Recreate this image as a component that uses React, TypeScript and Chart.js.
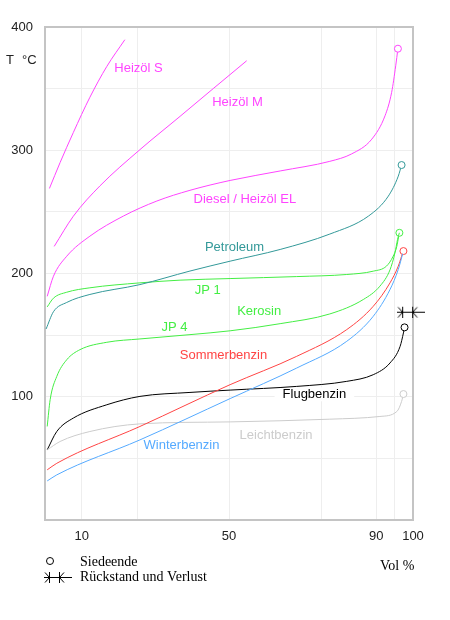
import { useEffect, useRef } from 'react';
import { Chart, registerables } from 'chart.js';

Chart.register(...registerables);

// Siedekurven: destilliertes Volumen (Vol %) gegen Temperatur (°C)
const heizoelSX = [1.2, 4.1, 7.7, 12.2, 16.8, 21.7];
const heizoelSY = [269, 290, 314.4, 343, 368, 389.7];

const heizoelMX = [2.5, 7.7, 14.9, 25.8, 36.7, 45.7, 54.8];
const heizoelMY = [222, 246.5, 271, 300.5, 327.5, 350, 372.6];

const dieselX = [0.6, 2.3, 5.9, 12.2, 21.3, 30.4, 39.4, 50.3, 63.9, 77.4, 83.3, 88.8, 92.4, 94.2, 95.3, 95.9];
const dieselY = [181.5, 197.8, 214, 230.3, 246.6, 258.8, 267.5, 275.5, 283.2, 291, 297, 309, 328, 347, 368.5, 382.4];

const petroleumX = [0.3, 2.3, 5.9, 12.2, 25.8, 39.4, 50.3, 63.9, 77.4, 87.9, 93.3, 96, 96.9];
const petroleumY = [155, 169, 176.5, 183, 191, 202, 210, 219.5, 232, 246.6, 262.8, 279, 288];

const jp1X = [0.6, 2.3, 5.9, 12.2, 25.8, 36.7, 50.3, 68.4, 82, 89.2, 92.8, 94.6, 95.6, 96.1, 96.3];
const jp1Y = [172.9, 180, 184.8, 188.4, 192.4, 194.6, 195.9, 197.5, 199.2, 201.9, 206, 214, 222, 230, 233];

const jp4X = [0.6, 1.4, 3.2, 5.9, 9.5, 16.8, 25.8, 39.4, 50.3, 63.9, 77.4, 86.5, 91, 93.75, 95.1, 95.8, 96.3];
const jp4Y = [75.9, 97.6, 116.5, 130, 138.2, 144.2, 146.9, 150.4, 153.5, 159.3, 167.2, 178.9, 189.7, 203, 216.8, 227.6, 233];

const sommerX = [0.6, 3.2, 25.8, 50.3, 68.4, 82, 89.2, 93.75, 96, 96.9, 97.4];
const sommerY = [40.7, 46, 75.9, 109.8, 132.8, 154.5, 173.4, 192.4, 206, 214, 218.2];

const winterX = [0.6, 3.2, 25.8, 50.3, 68.4, 82, 89.2, 93.75, 96, 97.2];
const winterY = [31.7, 36.6, 65, 98.5, 123.3, 145, 165.3, 187, 203.3, 216];

const flugX = [0.6, 3.2, 7.7, 16.8, 25.8, 39.4, 50.3, 68.4, 82, 89.2, 93.75, 96.5, 97.4, 97.7];
const flugY = [56.9, 71.8, 82.7, 93.5, 100.3, 103.5, 105.4, 108.4, 112.5, 117.9, 127.4, 140.9, 151.8, 156.3];

const leichtX = [0.6, 4.1, 12.2, 25.8, 50.3, 77.4, 91, 95.6, 96.9, 97.4];
const leichtY = [56.9, 63.7, 71.8, 78, 79.6, 81.8, 84, 88, 96.2, 102.2];

const rueckstandX = [99.5];
const rueckstandY = [169];

const xGridTicks = [10, 25, 50, 75, 90, 95, 100];
const xTickLabels = [10, 50, 90, 100];
const yGridTicks = [0, 50, 100, 150, 200, 250, 300, 350, 400];
const yTickLabels = [100, 200, 300, 400];

const curveLabels = ['Heizöl S', 'Heizöl M', 'Diesel / Heizöl EL', 'Petroleum', 'JP 1', 'Kerosin', 'JP 4', 'Sommerbenzin', 'Flugbenzin', 'Winterbenzin', 'Leichtbenzin'];
const curveLabelX = [25.4, 52.3, 54.3, 51.5, 44.2, 58.2, 35.2, 48.5, 73.2, 37.1, 62.8];
const curveLabelY = [366, 338.5, 260.5, 221.5, 186.5, 169.5, 156, 133.5, 102, 60.5, 68.7];

const MAGENTA = '#ff44ff';
const TEAL = '#339999';
const GREEN = '#44ee44';
const RED = '#ff4444';
const BLUE = '#55aaff';
const GRAY = '#cccccc';
const BLACK = '#000000';

const labelColors = [MAGENTA, MAGENTA, MAGENTA, TEAL, GREEN, GREEN, GREEN, RED, BLACK, BLUE, GRAY];
const boxedLabels = new Set(['Flugbenzin']);

const SANS = '"Liberation Sans", Arial, sans-serif';
const SERIF = '"Liberation Serif", "DejaVu Serif", serif';

// Symbol für "Rückstand und Verlust": Linie mit >| |<
function makeRueckstandSymbol() {
    const c = document.createElement('canvas');
    c.width = 28;
    c.height = 12;
    const g = c.getContext('2d');
    if (g) {
        g.strokeStyle = '#000';
        g.lineWidth = 1;
        g.beginPath();
        g.moveTo(0, 6.5); g.lineTo(28, 6.5);
        g.moveTo(5.5, 1); g.lineTo(5.5, 12);
        g.moveTo(1, 1.5); g.lineTo(5.5, 6.5); g.lineTo(1, 11.5);
        g.moveTo(15.5, 1); g.lineTo(15.5, 12);
        g.moveTo(20, 1.5); g.lineTo(15.5, 6.5); g.lineTo(20, 11.5);
        g.stroke();
    }
    return c;
}

const toPoints = (xs: number[], ys: number[]) => xs.map((x, i) => ({ x, y: ys[i] }));

function curve(label: string, xs: number[], ys: number[], color: string, endCircle: boolean) {
    const n = xs.length;
    return {
        label,
        data: toPoints(xs, ys),
        borderColor: color,
        borderWidth: 1,
        cubicInterpolationMode: 'monotone' as const,
        fill: false,
        pointRadius: xs.map((_, i) => (endCircle && i === n - 1 ? 3.5 : 0)),
        pointBackgroundColor: '#ffffff',
        pointBorderColor: color,
        pointBorderWidth: 1,
    };
}

export default function App() {
    const canvasRef = useRef<HTMLCanvasElement>(null);

    useEffect(() => {
        if (!canvasRef.current) return;
        const symbol = makeRueckstandSymbol();

        const decorations = {
            id: 'siedeDecorations',
            beforeDatasetsDraw(chart: any) {
                const { ctx, chartArea, scales } = chart;
                ctx.save();
                ctx.strokeStyle = '#c4c4c4';
                ctx.lineWidth = 2;
                ctx.strokeRect(chartArea.left, chartArea.top, chartArea.right - chartArea.left, chartArea.bottom - chartArea.top);

                ctx.font = `13px ${SANS}`;
                ctx.textAlign = 'center';
                ctx.textBaseline = 'middle';
                curveLabels.forEach((t, i) => {
                    const px = scales.x.getPixelForValue(curveLabelX[i]);
                    const py = scales.y.getPixelForValue(curveLabelY[i]);
                    if (boxedLabels.has(t)) {
                        const w = ctx.measureText(t).width;
                        ctx.fillStyle = '#ffffff';
                        ctx.fillRect(px - w / 2 - 8, py - 7, w + 16, 14);
                    }
                    ctx.fillStyle = labelColors[i];
                    ctx.fillText(t, px, py);
                });
                ctx.restore();
            },
            afterDraw(chart: any) {
                const { ctx } = chart;
                ctx.save();
                ctx.fillStyle = '#222';
                ctx.textBaseline = 'middle';
                ctx.textAlign = 'left';
                ctx.font = `13px ${SANS}`;
                ctx.fillText('T', 6, 60);
                ctx.fillText('°C', 22, 60);

                ctx.fillStyle = '#000';
                ctx.font = `14px ${SERIF}`;
                ctx.fillText('Vol %', 380, 566);

                ctx.strokeStyle = '#000';
                ctx.lineWidth = 1;
                ctx.beginPath();
                ctx.arc(50, 561, 3.5, 0, Math.PI * 2);
                ctx.stroke();
                ctx.fillText('Siedeende', 80, 562);

                ctx.drawImage(symbol, 44, 571);
                ctx.fillText('Rückstand und Verlust', 80, 577);
                ctx.restore();
            },
        };

        const chart = new Chart(canvasRef.current, {
            type: 'line',
            data: {
                datasets: [
                    curve('Heizöl S', heizoelSX, heizoelSY, MAGENTA, false),
                    curve('Heizöl M', heizoelMX, heizoelMY, MAGENTA, false),
                    curve('Diesel / Heizöl EL', dieselX, dieselY, MAGENTA, true),
                    curve('Petroleum', petroleumX, petroleumY, TEAL, true),
                    curve('JP 4 / Kerosin', jp4X, jp4Y, GREEN, false),
                    curve('JP 1', jp1X, jp1Y, GREEN, true),
                    curve('Winterbenzin', winterX, winterY, BLUE, false),
                    curve('Sommerbenzin', sommerX, sommerY, RED, true),
                    curve('Leichtbenzin', leichtX, leichtY, GRAY, true),
                    curve('Flugbenzin', flugX, flugY, BLACK, true),
                    {
                        label: 'Rückstand und Verlust',
                        data: toPoints(rueckstandX, rueckstandY),
                        showLine: false,
                        pointStyle: symbol,
                        pointRadius: 6,
                        clip: false,
                    } as any,
                ],
            },
            options: {
                responsive: false,
                animation: false,
                layout: { padding: { top: 27, right: 37, left: 0, bottom: 0 } },
                plugins: { legend: { display: false }, tooltip: { enabled: false } },
                scales: {
                    x: {
                        type: 'linear',
                        min: 0,
                        max: 100,
                        afterBuildTicks: (scale: any) => { scale.ticks = xGridTicks.map((v) => ({ value: v })); },
                        afterFit: (scale: any) => { scale.height = 100; },
                        grid: { color: '#eeeeee', drawTicks: false },
                        border: { display: false },
                        ticks: {
                            padding: 9,
                            maxRotation: 0,
                            autoSkip: false,
                            color: '#222',
                            font: { family: SANS, size: 13 },
                            callback: (v: any) => (xTickLabels.includes(Number(v)) ? String(v) : ''),
                        },
                    },
                    y: {
                        type: 'linear',
                        min: 0,
                        max: 400,
                        afterBuildTicks: (scale: any) => { scale.ticks = yGridTicks.map((v) => ({ value: v })); },
                        afterFit: (scale: any) => { scale.width = 45; },
                        grid: { color: '#eeeeee', drawTicks: false },
                        border: { display: false },
                        ticks: {
                            padding: 12,
                            autoSkip: false,
                            color: '#222',
                            font: { family: SANS, size: 13 },
                            callback: (v: any) => (yTickLabels.includes(Number(v)) ? String(v) : ''),
                        },
                    },
                },
            },
            plugins: [decorations],
        });

        return () => chart.destroy();
    }, []);

    return (
        <div style={{ position: 'absolute', left: 0, top: 0, width: 450, height: 620, background: '#fff' }}>
            <canvas ref={canvasRef} width={450} height={620} style={{ display: 'block', width: 450, height: 620 }}></canvas>
        </div>
    );
}
